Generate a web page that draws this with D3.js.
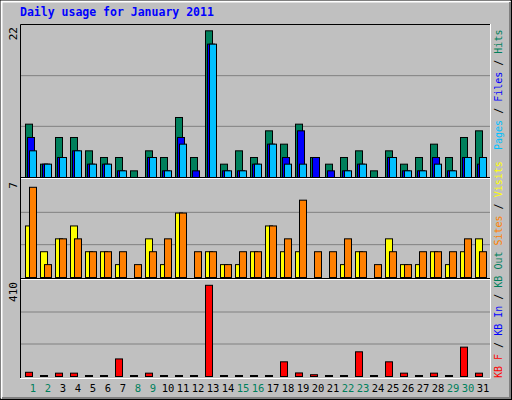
<!DOCTYPE html>
<html><head><meta charset="utf-8">
<script src="https://cdn.jsdelivr.net/npm/d3@7"></script>
<style>body{margin:0;background:#fff}svg{display:block}text{font-family:"DejaVu Sans Mono",monospace}</style>
</head><body><svg id="c" width="512" height="400"></svg>
<script>
const days = d3.range(1, 32);
const weekend = [1,2,8,9,15,16,22,23,29,30];
const hits  = [8,2,6,6,4,3,3,1,4,3,9,3,22,2,4,3,7,5,8,3,2,3,4,1,4,2,3,5,3,6,7];
const files = [6,2,3,4,2,2,1,0,3,1,6,1,20,1,1,2,5,3,7,3,1,1,2,0,3,1,1,3,1,3,2];
const pages = [4,2,3,4,2,2,1,0,3,1,5,0,20,1,1,2,5,2,2,0,0,1,2,0,3,1,1,2,1,3,3];
const visits= [4,2,3,4,2,2,1,0,3,1,5,0,2,1,1,2,4,2,2,0,0,1,2,0,3,1,1,2,1,2,3];
const sites = [7,1,3,3,2,2,2,1,2,3,5,2,2,1,2,2,4,3,6,2,2,3,2,1,2,1,2,2,2,3,2];
const kbF   = [19,0,15,15,0,0,79,0,15,0,0,0,410,0,0,0,0,66,16,8,0,0,111,0,66,15,0,15,0,132,15];
const maxLabels = ["22","7","410"];

const svg = d3.select("#c");
svg.append("rect").attr("width",512).attr("height",400).attr("fill","#C0C0C0");
// bevel
svg.append("rect").attr("x",0.5).attr("y",0.5).attr("width",511).attr("height",399).attr("fill","none").attr("stroke","#000");
svg.append("path").attr("d","M1.5,398.5V1.5H510.5").attr("stroke","#fff").attr("fill","none").attr("stroke-width",2);
svg.append("path").attr("d","M2,398H510V2").attr("stroke","#808080").attr("fill","none").attr("stroke-width",2);

svg.append("text").attr("x",20).attr("y",16).attr("fill","#0000FF").attr("font-weight","bold").attr("font-size",11.5).text("Daily usage for January 2011");

const L = 20, R = 490;
const x = d3.scaleBand().domain(days).range([L+5, L+5+15*31]).paddingInner(0);
const panels = [
  {top:25, bottom:177, max:22/0.965},
  {top:180, bottom:277, max:7/0.93},
  {top:280, bottom:376, max:410/0.95}
];
// plot area background box
svg.append("rect").attr("x",L).attr("y",24.5).attr("width",R-L).attr("height",354).attr("fill","#C0C0C0");
const ys = panels.map(p => d3.scaleLinear().domain([0,p.max]).range([p.bottom,p.bottom-(p.bottom-p.top)*(p.max/p.max)]));
panels.forEach((p,i) => {
  const h = p.bottom - p.top;
  [1,2].forEach(k => svg.append("line").attr("x1",L).attr("x2",R).attr("y1",p.bottom - h*k/3).attr("y2",p.bottom - h*k/3).attr("stroke","#808080"));
  svg.append("text").attr("transform",`translate(17,${p.top+2}) rotate(-90)`).attr("text-anchor","end").attr("font-size",11).attr("fill","#000").text(maxLabels[i]);
});
// separators
[177.5, 278.5].forEach(yv => {
  svg.append("line").attr("x1",L).attr("x2",R).attr("y1",yv).attr("y2",yv).attr("stroke","#000");
  svg.append("line").attr("x1",L).attr("x2",R).attr("y1",yv+1).attr("y2",yv+1).attr("stroke","#fff");
});
svg.append("path").attr("d",`M${L+0.5},378V24.5H${R}`).attr("stroke","#000").attr("fill","none");
svg.append("path").attr("d",`M${L},378.5H${R+0.5}V24`).attr("stroke","#fff").attr("fill","none");

function bars(vals, yScale, off, color, minH) {
  svg.append("g").selectAll("rect").data(vals).join("rect")
    .attr("x",(d,i)=>x(days[i])+off+0.5).attr("width",7)
    .attr("y",d=>yScale(d)-(d===0?minH:0)+0.5)
    .attr("height",d=>yScale(0)-yScale(d)+(d===0?minH:0))
    .attr("fill",color).attr("stroke","#000")
    .attr("display",d=>(d===0&&!minH)?"none":null);
}
bars(hits, ys[0], 0, "#00805C", 0);
bars(files, ys[0], 2, "#0000FF", 0);
bars(pages, ys[0], 4, "#00C0FF", 0);
bars(visits, ys[1], 0, "#FFFF00", 0);
bars(sites, ys[1], 4, "#FF8000", 0);
bars(kbF, ys[2], 0, "#FF0000", 1);

// day labels
svg.append("g").selectAll("text").data(days).join("text")
  .attr("x",d=>x(d)+8).attr("y",392).attr("text-anchor","middle").attr("font-size",10.5)
  .attr("fill",d=>weekend.includes(d)?"#00805C":"#000").text(d=>d);

function sideLabel(parts, yStart) {
  const t = svg.append("text").attr("transform",`translate(502,${yStart}) rotate(-90)`).attr("font-size",10);
  parts.forEach(([s,c]) => t.append("tspan").attr("fill",c).text(s));
}
sideLabel([["Pages","#00C0FF"],[" / ","#000"],["Files","#0000FF"],[" / ","#000"],["Hits","#00805C"]], 150);
sideLabel([["KB F","#FF0000"],[" / ","#000"],["KB In","#0000FF"],[" / ","#000"],["KB Out","#00805C"],[" ","#000"],["Sites","#FF8000"],[" / ","#000"],["Visits","#FFFF00"]], 378);
</script></body></html>
